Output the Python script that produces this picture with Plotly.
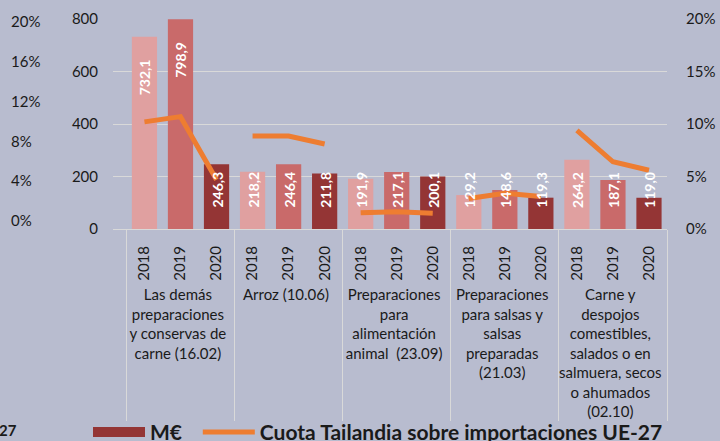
import plotly.graph_objects as go

groups = [
    "Las demás<br>preparaciones<br>y conservas de<br>carne (16.02)",
    "Arroz (10.06)",
    "Preparaciones<br>para<br>alimentación<br>animal  (23.09)",
    "Preparaciones<br>para salsas y<br>salsas<br>preparadas<br>(21.03)",
    "Carne y<br>despojos<br>comestibles,<br>salados o en<br>salmuera, secos<br>o ahumados<br>(02.10)",
]
years = ["2018", "2019", "2020"]
meur = [
    [732.1, 798.9, 246.3],
    [218.2, 246.4, 211.8],
    [191.9, 217.1, 200.1],
    [129.2, 148.6, 119.3],
    [264.2, 187.1, 119.0],
]
cuota = [
    [0.102, 0.107, 0.047],
    [0.0886, 0.0886, 0.081],
    [0.0155, 0.0165, 0.015],
    [0.029, 0.034, 0.031],
    [0.094, 0.064, 0.056],
]
year_colors = {"2018": "#e0a0a0", "2019": "#c96a6a", "2020": "#943535"}
orange = "#ee7d31"
bg = "#b8bccf"
grid = "#d9d9d9"
font_family = "Lato"

outer, inner, vals, cols = [], [], [], []
for g, row in zip(groups, meur):
    for yv, v in zip(years, row):
        outer.append(g)
        inner.append(yv)
        vals.append(v)
        cols.append(year_colors[yv])

fig = go.Figure()
fig.add_trace(go.Bar(x=[outer, inner], y=vals, marker=dict(color=cols, line=dict(width=0)),
                     showlegend=False, name="M€"))
# legend-only entry for M€
fig.add_trace(go.Scatter(x=[[groups[0]], [years[0]]], y=[None], mode="lines",
                         line=dict(color=year_colors["2020"], width=12),
                         name="<b>M€</b>&nbsp;&nbsp;"))
for gi, (g, row) in enumerate(zip(groups, cuota)):
    fig.add_trace(go.Scatter(x=[[g] * 3, years], y=row, yaxis="y2", mode="lines",
                             line=dict(color=orange, width=5),
                             name="<b>Cuota Tailandia sobre importaciones UE-27</b>",
                             legendgroup="cuota", showlegend=(gi == 0)))
# third (left-most) percentage axis, no data
fig.add_trace(go.Scatter(x=[[groups[0]], [years[0]]], y=[None], yaxis="y3",
                         showlegend=False, hoverinfo="skip"))

annotations = []
for i, v in enumerate(vals):
    label = f"{v:.1f}".replace(".", ",")
    if v > 400:
        annotations.append(dict(x=i, y=v, xref="x", yref="y", text=f"<b>{label}</b>",
                                textangle=-90, showarrow=False, yanchor="top", yshift=-20,
                                font=dict(color="white", size=14, family=font_family)))
    else:
        annotations.append(dict(x=i, y=0, xref="x", yref="y", text=f"<b>{label}</b>",
                                textangle=-90, showarrow=False, yanchor="bottom", yshift=19,
                                font=dict(color="white", size=14, family=font_family)))
annotations.append(dict(x=-0.02, y=-0.955, xref="paper", yref="paper", text="<b>27</b>",
                        showarrow=False, xanchor="left", yanchor="middle",
                        font=dict(size=15, color="#1a1a1a", family=font_family)))

L, R, T = 10, 53, 19
W, H = 720, 441
pw = W - L - R
x0 = (113 - L) / pw

fig.update_layout(
    width=W, height=H,
    margin=dict(l=L, r=R, t=T, b=H - T - 210, autoexpand=False),
    paper_bgcolor=bg, plot_bgcolor=bg,
    barmode="overlay", bargap=0.3,
    font=dict(family=font_family, size=15, color="#1a1a1a"),
    separators=",.",
    xaxis=dict(domain=[x0, 1], type="multicategory", tickangle=-90,
               showline=True, linecolor=grid, linewidth=1,
               showdividers=True, dividercolor=grid, dividerwidth=1,
               tickfont=dict(size=15), showgrid=False, ticks="", ticklabelstandoff=10),
    yaxis=dict(range=[0, 800], dtick=200, showgrid=True, gridcolor=grid, gridwidth=1,
               zeroline=False, showline=False, ticks="", ticklabelstandoff=14,
               tickfont=dict(size=15)),
    yaxis2=dict(range=[0, 0.2], dtick=0.05, tickformat=".0%", overlaying="y", side="right",
                showgrid=False, zeroline=False, showline=False, ticklabelstandoff=18,
                tickfont=dict(size=15)),
    yaxis3=dict(range=[-0.00804, 0.203], tickvals=[0, 0.04, 0.08, 0.12, 0.16, 0.2],
                tickformat=".0%", overlaying="y", side="right", anchor="free", position=0,
                showgrid=False, zeroline=False, showline=False, tickfont=dict(size=15)),
    legend=dict(orientation="h", x=(88 - L) / pw, y=-0.871, yanchor="top", xanchor="left",
                font=dict(size=21, family=font_family, color="#1a1a1a"),
                bgcolor="rgba(0,0,0,0)", itemwidth=52, traceorder="normal"),
    annotations=annotations,
)
fig.write_html("out.html", post_script="document.body.style.margin='0';",
               config={"displayModeBar": False})
